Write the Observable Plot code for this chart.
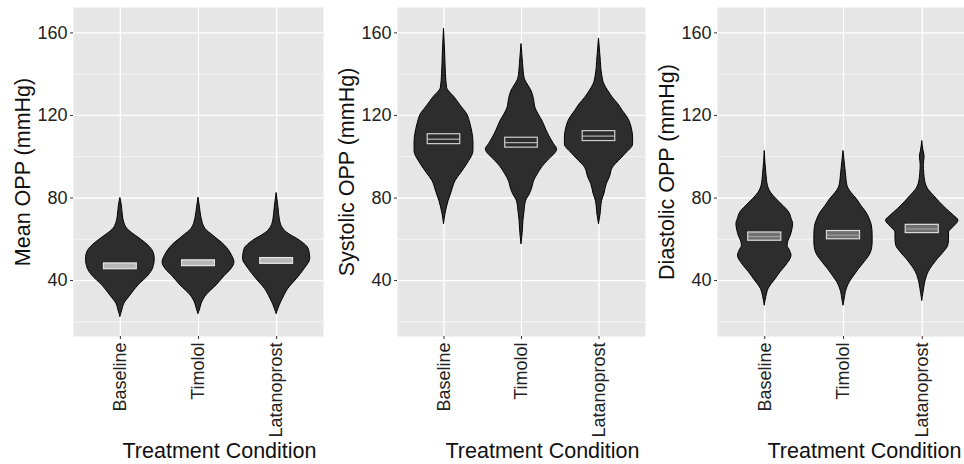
<!DOCTYPE html>
<html>
<head>
<meta charset="utf-8">
<script src="https://cdn.jsdelivr.net/npm/d3@7"></script>
<script src="https://cdn.jsdelivr.net/npm/@observablehq/plot@0.6"></script>
<style>
  html, body { margin: 0; padding: 0; background: #fff; }
  #wrap { position: relative; width: 964px; height: 464px; overflow: hidden; }
  #wrap svg { position: absolute; top: 0; }
</style>
</head>
<body>
<div id="wrap"></div>
<script>
const categories = ["Baseline", "Timolol", "Latanoprost"];
const yTicks = [40, 80, 120, 160];
const yMinor = [20, 60, 100, 140];
const yLabels = ["Mean OPP (mmHg)", "Systolic OPP (mmHg)", "Diastolic OPP (mmHg)"];
const xTitle = "Treatment Condition";

// violin profiles: [value (mmHg), half-width (x units)]
const meanBaseline = [[22.5,0],[25,0.02],[28.7,0.05],[32.8,0.13],[37.6,0.23],[42.4,0.36],[46,0.42],[50.5,0.44],[54,0.42],[56.9,0.36],[60,0.26],[63,0.15],[65,0.09],[68,0.05],[72,0.03],[76,0.02],[80,0]];
const meanTimolol = [[23.9,0],[26,0.02],[28.7,0.04],[32.8,0.1],[37.6,0.23],[42.4,0.34],[45.5,0.42],[48.8,0.46],[52,0.43],[56.9,0.34],[61.7,0.19],[65,0.09],[70,0.04],[75,0.02],[80.2,0]];
const meanLatanoprost = [[23.9,0],[26,0.02],[28,0.04],[31.2,0.08],[36,0.15],[40.8,0.26],[45.7,0.36],[50.5,0.43],[55.3,0.41],[59.3,0.30],[63.3,0.13],[66,0.07],[69.8,0.04],[75,0.025],[82.4,0]];

const sysBaseline = [[67.5,0],[72.4,0.02],[78.6,0.06],[83,0.10],[88.3,0.15],[92,0.22],[96.4,0.30],[102.8,0.38],[107,0.38],[110.9,0.37],[116,0.34],[120.5,0.30],[124.5,0.22],[128.6,0.14],[133.4,0.04],[140,0.025],[150,0.015],[162,0]];
const sysTimolol = [[57.7,0],[63,0.015],[69,0.025],[74,0.04],[78.6,0.06],[82,0.11],[85,0.14],[88,0.16],[91.5,0.21],[95,0.27],[98,0.34],[103.6,0.46],[106,0.42],[109.2,0.37],[113,0.32],[117.3,0.27],[120.5,0.22],[123.7,0.18],[128,0.16],[131.8,0.13],[135,0.08],[138,0.04],[145,0.02],[154.6,0]];
const sysLatanoprost = [[67.4,0],[72,0.02],[78.6,0.04],[82,0.07],[86.7,0.10],[90,0.14],[94.7,0.18],[98,0.26],[101.2,0.34],[106,0.44],[109,0.44],[112.5,0.43],[118.9,0.37],[122,0.31],[125.4,0.25],[128.5,0.18],[131.8,0.12],[135,0.07],[139.8,0.04],[148,0.02],[157.3,0]];

const diaBaseline = [[28,0],[32,0.02],[36,0.05],[40.8,0.14],[44,0.2],[47.2,0.27],[52.1,0.34],[54.5,0.32],[56.9,0.29],[59,0.30],[61.7,0.33],[64.5,0.35],[67.4,0.36],[70,0.34],[73,0.31],[76,0.24],[79.4,0.15],[82.5,0.08],[85.9,0.04],[92,0.02],[102.8,0]];
const diaTimolol = [[28,0],[31,0.015],[34.4,0.03],[39.2,0.08],[42,0.13],[45.7,0.2],[49,0.27],[52.1,0.33],[55,0.36],[58.5,0.37],[62,0.37],[66.6,0.36],[70,0.33],[73,0.29],[76,0.23],[79.4,0.17],[82.5,0.10],[85.9,0.05],[92,0.03],[102.8,0]];
const diaLatanoprost = [[30.3,0],[34,0.015],[37.6,0.03],[41,0.05],[44,0.08],[47,0.13],[50.5,0.2],[53.5,0.27],[56.9,0.33],[60,0.34],[63.3,0.34],[66,0.40],[69,0.46],[71.5,0.40],[74.6,0.31],[78,0.22],[81,0.15],[84,0.08],[87.5,0.04],[92,0.025],[96,0.02],[100,0.03],[103,0.015],[107.6,0]];

// central boxes: middle value and half-height (mmHg)
const meanBoxMid = [46.9, 48.4, 49.5];
const meanBoxHalf = [1.4, 1.4, 1.4];
const sysBoxMid = [108.5, 106.8, 110.0];
const sysBoxHalf = [2.4, 2.4, 2.4];
const diaBoxMid = [61.3, 62.0, 65.0];
const diaBoxHalf = [2.0, 2.0, 2.0];

const panels = [
  {left: 0, width: 325, marginLeft: 73, marginRight: 2, profiles: [meanBaseline, meanTimolol, meanLatanoprost], mid: meanBoxMid, half: meanBoxHalf, label: yLabels[0], boxFill: "#b8b8b8", boxStroke: "#e6e6e6", midStroke: "#b8b8b8"},
  {left: 325, width: 322, marginLeft: 72, marginRight: 2, profiles: [sysBaseline, sysTimolol, sysLatanoprost], mid: sysBoxMid, half: sysBoxHalf, label: yLabels[1], boxFill: "#2d2d2d", boxStroke: "#d0d0d0", midStroke: "#d0d0d0"},
  {left: 647, width: 322, marginLeft: 70, marginRight: 0, profiles: [diaBaseline, diaTimolol, diaLatanoprost], mid: diaBoxMid, half: diaBoxHalf, label: yLabels[2], boxFill: "#707070", boxStroke: "#dcdcdc", midStroke: "#a8a8a8"}
];

const wrap = document.getElementById("wrap");
const boxHalfW = 0.21;

for (const p of panels) {
  const violins = p.profiles.flatMap((prof, i) => prof.map(([v, w]) => ({cat: i + 1, v, w})));
  const boxes = p.mid.map((m, i) => ({cat: i + 1, mid: m, half: p.half[i]}));
  const svg = Plot.plot({
    width: p.width,
    height: 464,
    marginLeft: p.marginLeft,
    marginRight: p.marginRight,
    marginTop: 7,
    marginBottom: 128,
    style: {fontFamily: "'Liberation Sans', Arial, sans-serif", background: "transparent"},
    x: {domain: [0.4, 3.6]},
    y: {domain: [12.9, 172.3]},
    marks: [
      Plot.frame({fill: "#e6e6e6", stroke: null}),
      Plot.ruleY(yMinor, {stroke: "#fff", strokeWidth: 0.6}),
      Plot.ruleY(yTicks, {stroke: "#fff", strokeWidth: 1.3}),
      Plot.ruleX([1, 2, 3], {stroke: "#fff", strokeWidth: 1.3}),
      Plot.areaX(violins, {y: "v", x1: d => d.cat - d.w, x2: d => d.cat + d.w, z: "cat", fill: "#2d2d2d", stroke: "#000", strokeWidth: 1, curve: "monotone-y"}),
      Plot.rect(boxes, {x1: d => d.cat - boxHalfW, x2: d => d.cat + boxHalfW, y1: d => d.mid - d.half, y2: d => d.mid + d.half, fill: p.boxFill, stroke: p.boxStroke, strokeWidth: 1.2}),
      Plot.ruleY(boxes, {x1: d => d.cat - boxHalfW, x2: d => d.cat + boxHalfW, y: "mid", stroke: p.midStroke, strokeWidth: 1}),
      Plot.axisY(yTicks, {tickSize: 3, tickPadding: 3, fontSize: 18, label: null, stroke: "#333", fill: "#222"}),
      Plot.axisX([1, 2, 3], {tickFormat: i => categories[i - 1], tickRotate: -90, tickSize: 3, tickPadding: 3, fontSize: 18, label: null, stroke: "#333", fill: "#222"}),
      Plot.text([p.label], {frameAnchor: "left", textAnchor: "middle", lineAnchor: "middle", rotate: -90, dx: -50, fontSize: 21.5, fill: "#111"}),
      Plot.text([xTitle], {frameAnchor: "bottom", textAnchor: "middle", lineAnchor: "bottom", dy: 121, dx: 21, fontSize: 21.5, fill: "#111"})
    ]
  });
  svg.style.left = p.left + "px";
  wrap.appendChild(svg);
}
</script>
</body>
</html>
